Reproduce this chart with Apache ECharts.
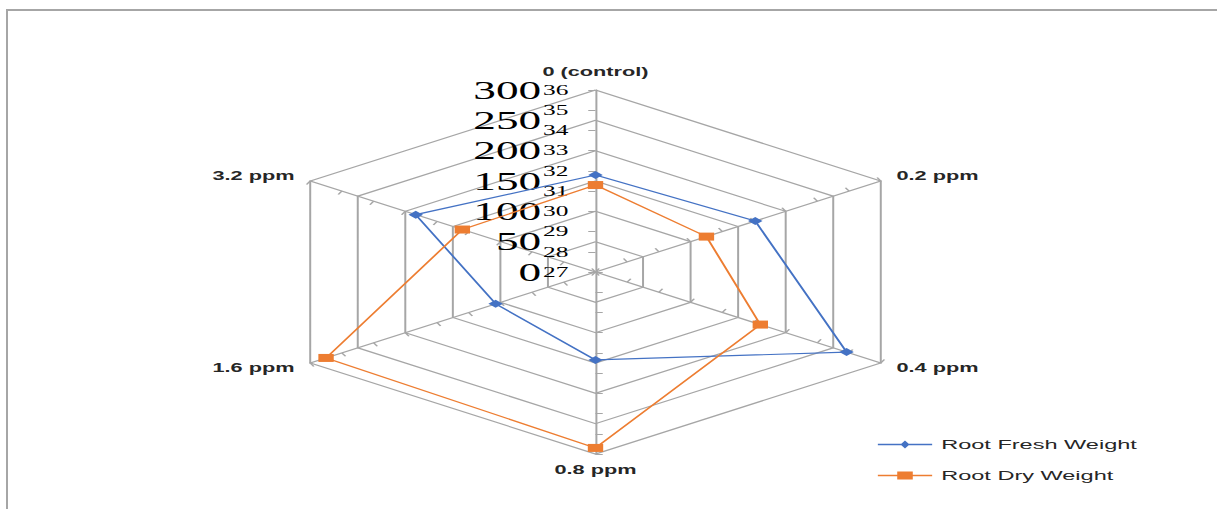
<!DOCTYPE html>
<html>
<head>
<meta charset="utf-8">
<title>Root weight radar</title>
<script src="https://cdn.jsdelivr.net/npm/echarts@6/dist/echarts.min.js"></script>
<style>
  html, body { margin: 0; padding: 0; background: #fff; overflow: hidden; }
  .frame {
    position: absolute; left: 6px; top: 9px; width: 1400px; height: 700px;
    border-left: 2px solid #a6a6a6; border-top: 2px solid #a6a6a6;
  }
  /* the reference is stretched sideways, so the whole chart is too */
  #main {
    position: absolute; left: 0; top: 0; width: 672px; height: 509px;
    transform: scaleX(1.81); transform-origin: 0 0;
  }
</style>
</head>
<body>
<div class="frame"></div>
<div id="main"></div>
<script>
const categories = ['0 (control)', '0.2 ppm', '0.4 ppm', '0.8 ppm', '1.6 ppm', '3.2 ppm']
const freshWeight = [160, 168, 264, 145, 105, 189]
const dryWeight = [31.3, 30.5, 32.2, 35.7, 35.5, 31.2]
const freshTicks = [0, 50, 100, 150, 200, 250, 300]
const dryTicks = [27, 28, 29, 30, 31, 32, 33, 34, 35, 36]

const BLUE = '#4472C4'
const ORANGE = '#ED7D31'
const GRID = '#a6a6a6'
const CENTER = [329, 272]
const RADIUS = 182

// echarts lays radar indicators out counter-clockwise, the picture goes clockwise
function ccw(arr) {
  return [arr[0]].concat(arr.slice(1).reverse())
}

function buildIndicators(ticks) {
  return ccw(categories).map((name, i) => ({
    name: name,
    min: ticks[0],
    max: ticks[ticks.length - 1],
    axisLabel: { show: i === 0 }
  }))
}

const chart = echarts.init(document.getElementById('main'), null, { renderer: 'svg' })
chart.setOption({
  backgroundColor: 'transparent',
  animation: false,
  legend: {
    orient: 'vertical',
    left: 480,
    top: 433,
    itemWidth: 30,
    itemHeight: 8,
    itemGap: 18,
    textStyle: { fontFamily: 'Liberation Sans', fontSize: 13, color: '#262626' },
    data: [
      { name: 'Root Fresh Weight', icon: 'path://M0,3.3H30V4.7H0Z M12.5,4L15,0L17.5,4L15,8Z' },
      { name: 'Root Dry Weight', icon: 'path://M0,3.3H30V4.7H0Z M10.7,0H19.3V8H10.7Z' }
    ]
  },
  radar: [
    {
      center: CENTER,
      radius: RADIUS,
      startAngle: 90,
      shape: 'polygon',
      splitNumber: freshTicks.length - 1,
      indicator: buildIndicators(freshTicks),
      axisName: { color: '#262626', fontFamily: 'Liberation Sans', fontSize: 12, fontWeight: 'bold' },
      axisNameGap: 10,
      axisLine: { lineStyle: { color: GRID, width: 1.1 } },
      splitLine: { lineStyle: { color: GRID, width: 1.1 } },
      splitArea: { show: false },
      axisTick: { show: false },
      axisLabel: { show: false, color: '#000', fontFamily: 'Liberation Serif', fontSize: 25, margin: 30 }
    },
    {
      center: CENTER,
      radius: RADIUS,
      startAngle: 90,
      shape: 'polygon',
      splitNumber: dryTicks.length - 1,
      indicator: buildIndicators(dryTicks),
      axisName: { show: false },
      axisLine: { show: false },
      splitLine: { show: false },
      splitArea: { show: false },
      axisTick: { show: true, length: 4, lineStyle: { color: GRID, width: 1 } },
      axisLabel: { show: false, color: '#000', fontFamily: 'Liberation Serif', fontSize: 14, margin: 15 }
    }
  ],
  series: [
    {
      type: 'radar',
      radarIndex: 0,
      symbol: 'diamond',
      symbolSize: 8,
      itemStyle: { color: BLUE },
      lineStyle: { color: BLUE, width: 1.2 },
      data: [{ name: 'Root Fresh Weight', value: ccw(freshWeight) }]
    },
    {
      type: 'radar',
      radarIndex: 1,
      symbol: 'rect',
      symbolSize: [8.5, 8],
      itemStyle: { color: ORANGE },
      lineStyle: { color: ORANGE, width: 1.2 },
      data: [{ name: 'Root Dry Weight', value: ccw(dryWeight) }]
    }
  ]
})
</script>
</body>
</html>
